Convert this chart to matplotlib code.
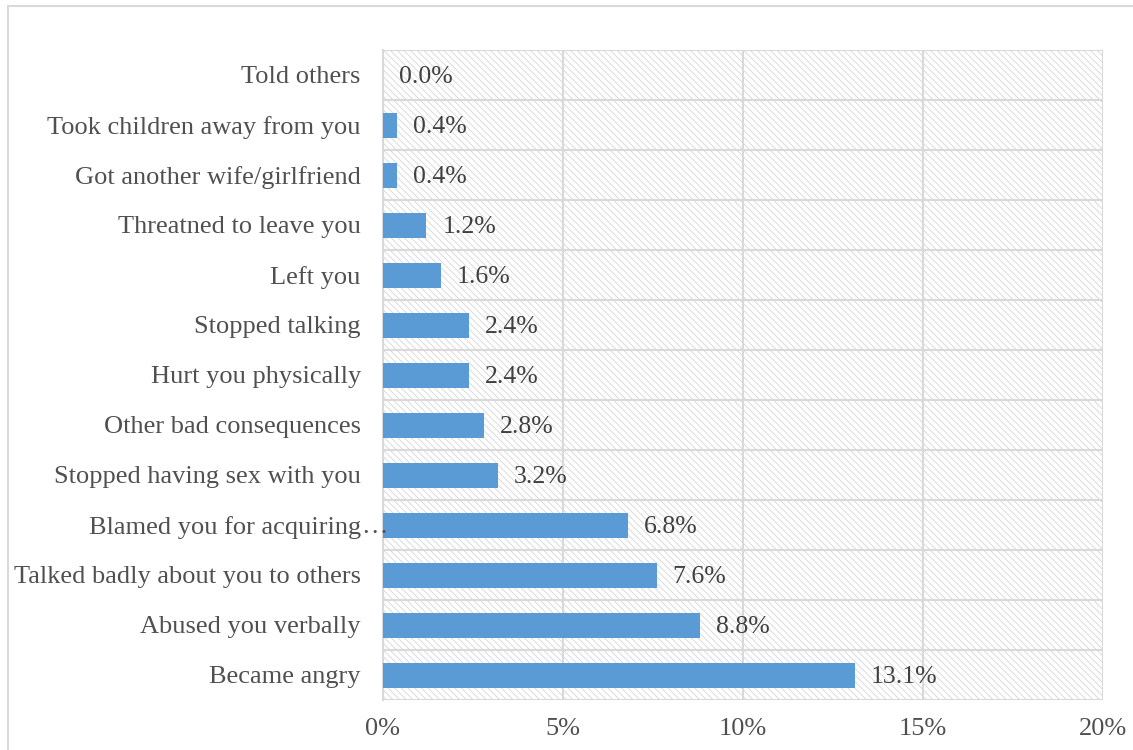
import matplotlib

matplotlib.use("Agg")
import matplotlib.pyplot as plt  # noqa: E402
from matplotlib.patches import Rectangle  # noqa: E402
from matplotlib.ticker import FuncFormatter, MultipleLocator  # noqa: E402
from matplotlib.transforms import ScaledTranslation  # noqa: E402

# Bottom-to-top order, as the bars are stacked on the y axis.
CATEGORIES = [
    "Became angry",
    "Abused you verbally",
    "Talked badly about you to others",
    "Blamed you for acquiring\u2026",
    "Stopped having sex with you",
    "Other bad consequences",
    "Hurt you physically",
    "Stopped talking",
    "Left you",
    "Threatned to leave you",
    "Got another wife/girlfriend",
    "Took children away from you",
    "Told others",
]
SHARES = [13.1, 8.8, 7.6, 6.8, 3.2, 2.8, 2.4, 2.4, 1.6, 1.2, 0.4, 0.4, 0.0]

BAR_COLOR = "#5B9BD5"
GRID_COLOR = "#D9D9D9"
TEXT_COLOR = "#505050"
LABEL_SIZE = 19

plt.rcParams["font.family"] = ["Liberation Serif", "DejaVu Serif"]
plt.rcParams["hatch.linewidth"] = 0.6

fig = plt.figure(figsize=(11.33, 7.5), dpi=100)

# Outer chart frame (runs off the right and bottom edges).
fig.patches.append(Rectangle((8 / 1133, -0.05), 1.2, 1 - 6 / 750 + 0.05,
                             transform=fig.transFigure, fill=False,
                             edgecolor=GRID_COLOR, linewidth=1.5, zorder=0))

ax = fig.add_axes([383 / 1133, 50 / 750, 720 / 1133, 650 / 750])
ax.set_facecolor("white")

# Hatched plot-area background.
ax.add_patch(Rectangle((0, 0), 1, 1, transform=ax.transAxes, facecolor="white",
                       edgecolor="#D6D6D6", hatch="\\\\\\\\\\", linewidth=0,
                       zorder=0))

y = list(range(len(CATEGORIES)))
ax.barh(y, SHARES, height=0.5, color=BAR_COLOR, zorder=3)

for yi, v in zip(y, SHARES):
    ax.annotate(f"{v:.1f}%", xy=(v, yi), xytext=(11.5, -1.5), textcoords="offset points",
                ha="left", va="center", fontsize=18.5, color="#404040", zorder=4)

ax.set_xlim(0, 20)
ax.set_ylim(-0.5, len(CATEGORIES) - 0.5)
ax.xaxis.set_major_locator(MultipleLocator(5))
ax.xaxis.set_major_formatter(FuncFormatter(lambda v, _: f"{v:.0f}%"))
ax.set_yticks(y)
ax.set_yticks([i + 0.5 for i in range(-1, len(CATEGORIES))], minor=True)

# Category names drawn as text so the truncated one can spill past the axis
# line, with its ellipsis hanging over the plot area.
ax.set_yticklabels([""] * len(CATEGORIES))
label_tf = ax.get_yaxis_transform() + ScaledTranslation(-16 / 72, -1.5 / 72, fig.dpi_scale_trans)
for yi, name in zip(y, CATEGORIES):
    if name.endswith("\u2026"):
        ax.text(0, yi, name[:-1], transform=label_tf, ha="right", va="center",
                fontsize=LABEL_SIZE, color=TEXT_COLOR, clip_on=False)
        ax.text(0, yi, "\u2026", transform=label_tf, ha="left", va="center",
                fontsize=LABEL_SIZE, color=TEXT_COLOR, clip_on=False)
    else:
        ax.text(0, yi, name, transform=label_tf, ha="right", va="center",
                fontsize=LABEL_SIZE, color=TEXT_COLOR, clip_on=False)

ax.grid(True, axis="x", which="major", color=GRID_COLOR, linewidth=1.5, zorder=1)
ax.grid(True, axis="y", which="minor", color=GRID_COLOR, linewidth=1.5, zorder=1)
ax.set_axisbelow(True)

for side in ("top", "right", "bottom"):
    ax.spines[side].set_visible(False)
ax.spines["left"].set_color(GRID_COLOR)
ax.spines["left"].set_linewidth(1.5)

ax.tick_params(axis="both", which="both", length=0, labelsize=LABEL_SIZE, colors=TEXT_COLOR)
ax.tick_params(axis="x", pad=13)

fig.savefig("out.png", dpi=100)
